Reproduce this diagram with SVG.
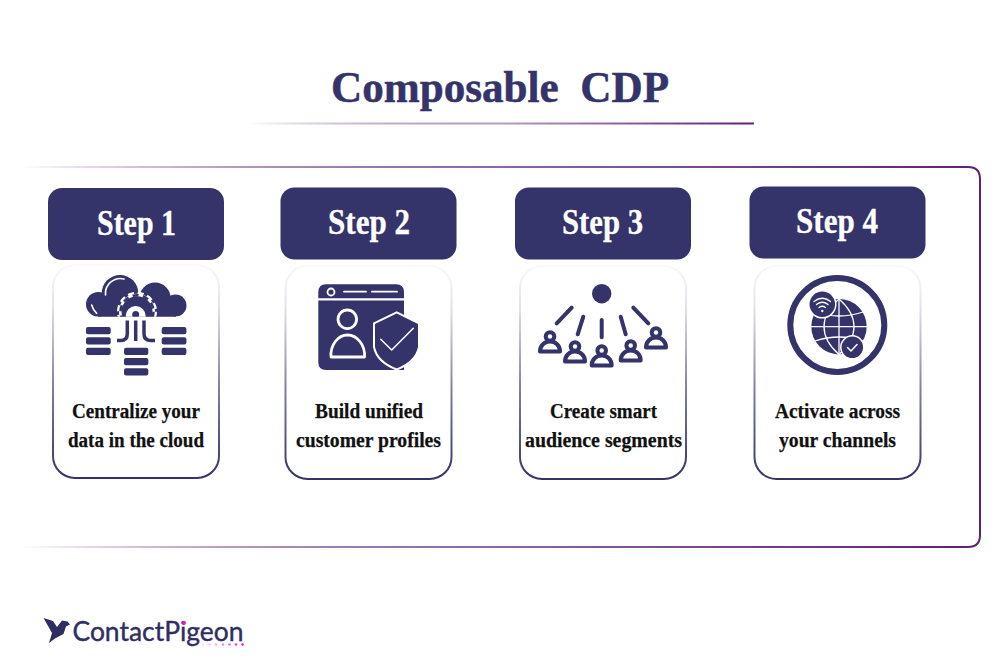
<svg xmlns="http://www.w3.org/2000/svg" width="1000" height="668" viewBox="0 0 1000 668">
<style>
.n{fill:#34336a}
.t{font-family:"Liberation Serif","Times New Roman",serif;font-weight:700;text-anchor:middle}
.h{font-size:35px;fill:#fff;stroke:#fff;stroke-width:.3px}
.b{font-size:20.5px;fill:#111;stroke:#111;stroke-width:.25px}
.w{fill:none;stroke:#fff;stroke-linecap:round;stroke-linejoin:round}
.c{fill:#fff;stroke:url(#cardG);stroke-width:2}
.l{fill:none;stroke:#34336a;stroke-width:4;stroke-linecap:round}
</style>
<defs>
<linearGradient id="frameG" gradientUnits="userSpaceOnUse" x1="20" y1="0" x2="980" y2="0"><stop offset="0" stop-color="#7a2d8c" stop-opacity="0"/><stop offset=".35" stop-color="#9d78ae"/><stop offset="1" stop-color="#5f1f78"/></linearGradient>
<linearGradient id="ruleG" gradientUnits="userSpaceOnUse" x1="245" y1="0" x2="754" y2="0"><stop offset="0" stop-color="#6a2a82" stop-opacity="0"/><stop offset=".5" stop-color="#b79cc4"/><stop offset="1" stop-color="#5f1f78"/></linearGradient>
<linearGradient id="cardG" x1="0" y1="0" x2="0" y2="1"><stop offset="0" stop-color="#34336a" stop-opacity=".03"/><stop offset=".2" stop-color="#34336a" stop-opacity=".15"/><stop offset=".55" stop-color="#34336a" stop-opacity=".6"/><stop offset="1" stop-color="#34336a"/></linearGradient>
<clipPath id="cloudClip"><rect x="80" y="270" width="110" height="46.700"/></clipPath>
<g id="person">
<path d="M-10 5H10C10 -1 5.500 -5 0 -5S-10 -1 -10 5Z" fill="#fff" stroke="#34336a" stroke-width="4" stroke-linejoin="round"/>
<circle cx="0" cy="-10" r="6.300" fill="#34336a"/>
<circle cx="0" cy="-10" r="2.200" fill="#fff"/>
</g>
</defs>
<rect width="1000" height="668" fill="#fff"/>
<text class="t" x="500" y="102" font-size="45" fill="#34336a" stroke="#34336a" stroke-width=".5" xml:space="preserve" textLength="338" lengthAdjust="spacingAndGlyphs">Composable  CDP</text>
<g id="connectors">
<path d="M245 123.500H754" fill="none" stroke="url(#ruleG)" stroke-width="2"/>
<path d="M20 167H968Q980 167 980 179V535Q980 547 968 547H20" fill="none" stroke="url(#frameG)" stroke-width="2"/>
</g>
<g id="step1">
<rect class="n" x="48" y="188" width="176" height="72" rx="14"/>
<text class="t h" x="136.500" y="235" textLength="79" lengthAdjust="spacingAndGlyphs">Step 1</text>
<rect class="c" x="53" y="265" width="166" height="213" rx="22"/>
<g class="n" clip-path="url(#cloudClip)">
<circle cx="98.300" cy="304.300" r="12.300"/><circle cx="120" cy="293.300" r="18.300"/><circle cx="155" cy="298.300" r="15.700"/><circle cx="175.500" cy="305.500" r="11"/><rect x="98" y="296" width="78" height="21"/>
</g>
<path class="w" stroke-width="1.600" d="M105.500 295A15 15 0 0 1 124 279"/>
<path class="w" stroke-width="1.600" d="M91.700 305Q93 310 96.700 313.300"/>
<g clip-path="url(#cloudClip)">
<circle cx="137" cy="311.700" r="18" fill="#fff"/>
<circle cx="137" cy="311.700" r="18.500" fill="none" stroke="#fff" stroke-width="3" stroke-dasharray="6 3.700"/>
<circle cx="137" cy="311.700" r="15.500" fill="#34336a"/>
<circle cx="137" cy="311.700" r="16.500" fill="none" stroke="#34336a" stroke-width="2.500" stroke-dasharray="6 4.400"/>
<circle cx="135.700" cy="316" r="10" fill="#fff"/>
<circle cx="135.700" cy="314.500" r="3.500" fill="#34336a"/>
</g>
<rect class="n" x="86" y="327" width="24.700" height="7.200" rx="2"/><rect class="n" x="86" y="337.300" width="24.700" height="7.200" rx="2"/><rect class="n" x="86" y="347.700" width="24.700" height="7.200" rx="2"/>
<rect class="n" x="161.700" y="327" width="24.700" height="7.200" rx="2"/><rect class="n" x="161.700" y="337.300" width="24.700" height="7.200" rx="2"/><rect class="n" x="161.700" y="347.700" width="24.700" height="7.200" rx="2"/>
<rect class="n" x="124" y="347.700" width="24.300" height="7.200" rx="2"/><rect class="n" x="124" y="358" width="24.300" height="7.200" rx="2"/><rect class="n" x="124" y="368.300" width="24.300" height="7.200" rx="2"/>
<path d="M135.700 320.500V341M127.300 320.500V334Q127.300 340.500 120.500 340.500H117M144 320.500V334Q144 340.500 151 340.500H155" fill="none" stroke="#34336a" stroke-width="3.500"/>
<text class="t b" x="136" y="418" textLength="128" lengthAdjust="spacingAndGlyphs">Centralize your</text>
<text class="t b" x="136" y="447" textLength="136" lengthAdjust="spacingAndGlyphs">data in the cloud</text>
</g>
<g id="step2">
<rect class="n" x="280.500" y="187.500" width="176" height="72" rx="14"/>
<text class="t h" x="369" y="234" textLength="82" lengthAdjust="spacingAndGlyphs">Step 2</text>
<rect class="c" x="285.500" y="266" width="166" height="213" rx="22"/>
<path class="n" d="M326 284.300H396Q404 284.300 404 292.300V298.300H318.300V292.300Q318.300 284.300 326 284.300ZM318.300 300.500H404V370H326Q318.300 370 318.300 362Z"/>
<circle cx="331" cy="292" r="3.500" fill="none" stroke="#fff" stroke-width="1.800"/>
<path class="w" stroke-width="1.800" d="M344 291.700H366M372 291.700H397"/>
<circle cx="347.300" cy="319.300" r="9.300" fill="none" stroke="#fff" stroke-width="2.800"/>
<path class="w" stroke-width="2.800" d="M331 357H364.500C365.500 345 357 335 347.500 335S330 345 331 357Z"/>
<path d="M396.700 312.300L419 323.300V347Q416 362 396.700 369.500Q377 362 374 347V323.300Z" fill="#34336a" stroke="#fff" stroke-width="2"/>
<path class="w" stroke-width="1.500" d="M380.700 339.300L391.700 350L413.300 328.300"/>
<text class="t b" x="369" y="418" textLength="108" lengthAdjust="spacingAndGlyphs">Build unified</text>
<text class="t b" x="368.500" y="447" textLength="145" lengthAdjust="spacingAndGlyphs">customer profiles</text>
</g>
<g id="step3">
<rect class="n" x="515" y="187.500" width="176" height="72" rx="14"/>
<text class="t h" x="602.500" y="234" textLength="81" lengthAdjust="spacingAndGlyphs">Step 3</text>
<rect class="c" x="520" y="266" width="166" height="213" rx="22"/>
<circle class="n" cx="601.700" cy="293.700" r="9.700"/>
<path class="l" d="M571.700 307.700L556.700 323.300M583.300 316.700L577.700 334.300M601.700 320V337.300M620.700 316.700L625.700 334.300M633.300 307.700L648.300 323.300"/>
<use href="#person" x="550" y="346.500"/>
<use href="#person" x="575" y="356.500"/>
<use href="#person" x="601.700" y="360.500"/>
<use href="#person" x="630.700" y="355.500"/>
<use href="#person" x="656" y="342.500"/>
<text class="t b" x="603.500" y="418" textLength="107" lengthAdjust="spacingAndGlyphs">Create smart</text>
<text class="t b" x="603.500" y="447" textLength="157" lengthAdjust="spacingAndGlyphs">audience segments</text>
</g>
<g id="step4">
<rect class="n" x="749.500" y="186.500" width="176" height="72" rx="14"/>
<text class="t h" x="837" y="233" textLength="82" lengthAdjust="spacingAndGlyphs">Step 4</text>
<rect class="c" x="754.500" y="266" width="166" height="213" rx="22"/>
<circle cx="837.300" cy="325" r="47" fill="none" stroke="#34336a" stroke-width="6"/>
<circle class="n" cx="839" cy="326.700" r="27.700"/>
<g class="w" stroke-width="1.300">
<path d="M811.500 326.700H866.700"/>
<path d="M839 299V354.400"/>
<path d="M839 299Q824 312 824 326.700T839 354.400M839 299Q854 312 854 326.700T839 354.400"/>
<path d="M815 312Q839 320 863 312M815 341Q839 333 863 341"/>
</g>
<circle class="n" cx="822.300" cy="304.300" r="13.500" stroke="#fff" stroke-width="1.500"/>
<g class="w" stroke-width="1.300">
<path d="M814 301.500Q822.300 295 830.500 301.500M816.500 304.500Q822.300 300 828 304.500M819 307.500Q822.300 305 825.500 307.500"/>
</g>
<circle cx="822.300" cy="311" r="1.200" fill="#fff"/>
<circle class="n" cx="852.300" cy="347.300" r="11.500" stroke="#fff" stroke-width="1.500"/>
<path class="w" stroke-width="1.500" d="M847.500 347.500L851 351L857 344.500"/>
<text class="t b" x="837.500" y="418" textLength="125" lengthAdjust="spacingAndGlyphs">Activate across</text>
<text class="t b" x="837.500" y="447" textLength="117" lengthAdjust="spacingAndGlyphs">your channels</text>
</g>
<g id="logo">
<path d="M43.500 618L53 621L57 627L62 620.500L67.500 621.500L70 624.500L66 626.500L63.500 634L55 638.500L49 643L52 633Z" fill="#2f2e62"/>
<text x="72.500" y="641" font-family="Lato,'Open Sans',sans-serif" font-size="27" fill="#2f2e62" stroke="#2f2e62" stroke-width=".4" textLength="171" lengthAdjust="spacingAndGlyphs">ContactPigeon</text>
<circle cx="184" cy="623" r="1.900" fill="#f012c8"/>
<g fill="#f012c8"><circle cx="203" cy="644.500" r="1.300" opacity=".15"/><circle cx="209.500" cy="644.500" r="1.300" opacity=".25"/><circle cx="216" cy="644.500" r="1.300" opacity=".35"/><circle cx="223" cy="644.500" r="1.300" opacity=".5"/><circle cx="229.500" cy="644.500" r="1.300" opacity=".65"/><circle cx="236" cy="644.500" r="1.300" opacity=".8"/><circle cx="242.500" cy="644.500" r="1.300"/></g>
</g>
</svg>
